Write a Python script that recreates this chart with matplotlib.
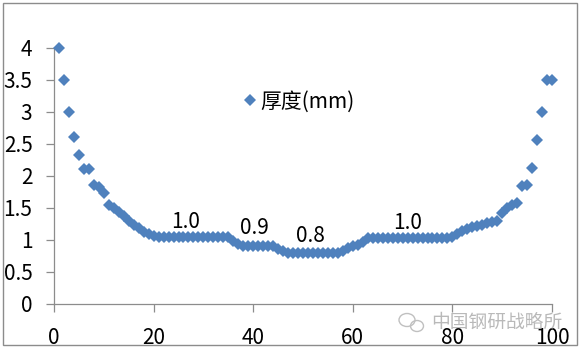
import matplotlib
matplotlib.use("Agg")
import matplotlib.pyplot as plt
from matplotlib.patches import Rectangle, Ellipse

plt.rcParams['font.family'] = ['Noto Sans CJK SC', 'DejaVu Sans']

# ---- data ----
positions = list(range(1, 101))
thickness = [
    4.00, 3.50, 3.00, 2.60, 2.33, 2.10, 2.10, 1.85, 1.82, 1.73,
    1.55, 1.50, 1.44, 1.38, 1.30, 1.23, 1.18, 1.13, 1.09, 1.06,
    1.05, 1.04, 1.04, 1.04, 1.04, 1.04, 1.04, 1.04, 1.04, 1.04,
    1.04, 1.04, 1.04, 1.04, 1.04, 0.98, 0.93, 0.90, 0.90, 0.90,
    0.90, 0.90, 0.90, 0.90, 0.86, 0.82, 0.80, 0.80, 0.80, 0.80,
    0.80, 0.80, 0.80, 0.80, 0.80, 0.80, 0.80, 0.83, 0.87, 0.90,
    0.92, 0.97, 1.03, 1.03, 1.03, 1.03, 1.03, 1.03, 1.03, 1.03,
    1.03, 1.03, 1.03, 1.03, 1.03, 1.03, 1.03, 1.03, 1.03, 1.05,
    1.10, 1.14, 1.17, 1.20, 1.22, 1.24, 1.26, 1.28, 1.30, 1.42,
    1.50, 1.55, 1.58, 1.84, 1.85, 2.12, 2.56, 3.00, 3.50, 3.50,
]
series_name = "厚度(mm)"
band_labels = ["1.0", "0.9", "0.8", "1.0"]
x_ticks = [0, 20, 40, 60, 80, 100]
y_ticks = [0, 0.5, 1, 1.5, 2, 2.5, 3, 3.5, 4]
y_tick_labels = ["0", "0.5", "1", "1.5", "2", "2.5", "3", "3.5", "4"]
watermark = "中国钢研战略所"

# ---- figure ----
W, H = 581, 351
fig = plt.figure(figsize=(W / 100, H / 100), dpi=100)
fig.patch.set_facecolor("white")
fig.patches.append(Rectangle((3 / W, 1 - 345 / H), 574 / W, 342 / H,
                             transform=fig.transFigure, fill=False,
                             edgecolor="#8c8c8c", linewidth=1.0))

ax = fig.add_axes([54 / W, 1 - 304 / H, (552 - 54) / W, (304 - 47.7) / H])
color = "#4F81BD"
ax.plot(positions, thickness, linestyle="none", marker="D", markersize=6.4,
        color=color, markeredgewidth=0, label=series_name, clip_on=False,
        zorder=3)

ax.set_xlim(0, 100)
ax.set_ylim(0, 4)
ax.set_xticks(x_ticks)
ax.set_yticks(y_ticks)
ax.set_yticklabels(y_tick_labels)
for s in ["top", "right"]:
    ax.spines[s].set_visible(False)
for s in ["left", "bottom"]:
    ax.spines[s].set_color("#8c8c8c")
    ax.spines[s].set_linewidth(0.9)
ax.tick_params(axis="both", colors="#8c8c8c", labelcolor="black",
               labelsize=15, length=5.5, width=0.9, direction="out")
ax.tick_params(axis="y", pad=10)
ax.tick_params(axis="x", pad=11)

# band labels
label_pos = [(26.5, 1.28), (40.2, 1.19), (51.4, 1.06), (71.0, 1.27)]
for txt, (lx, ly) in zip(band_labels, label_pos):
    ax.text(lx, ly, txt, ha="center", va="center", fontsize=15, color="black")

leg = ax.legend(loc="center", bbox_to_anchor=(0.49, 0.79), frameon=False,
                fontsize=15, handlelength=0.8, handletextpad=0.1,
                numpoints=1, borderpad=0.2)

# watermark
fig.text(562 / W, 1 - 322 / H, watermark, ha="right", va="center",
         fontsize=13.5, color="#a8a8a8", alpha=0.8)
for (cx, cy, ew, eh) in [(407, 320, 16, 13), (417, 326, 13, 11)]:
    fig.patches.append(Ellipse((cx / W, 1 - cy / H), ew / W, eh / H,
                               transform=fig.transFigure, fill=False,
                               edgecolor="#c0c0c0", linewidth=1.0))

fig.savefig("out.png", dpi=100, facecolor="white")
